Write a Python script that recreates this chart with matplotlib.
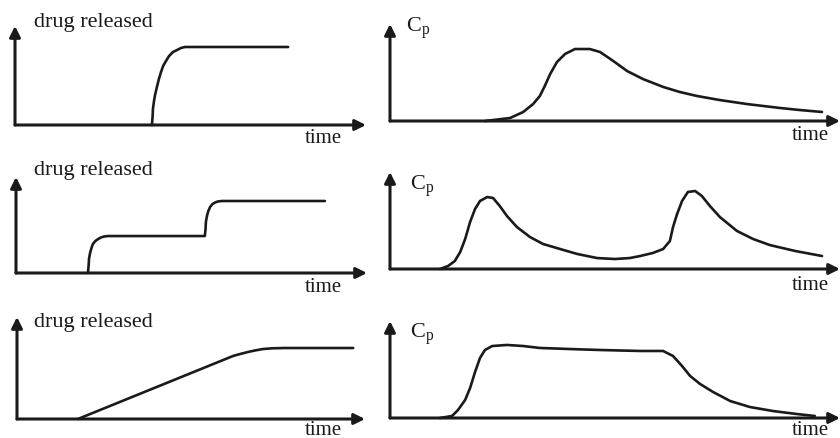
import matplotlib.pyplot as plt
import matplotlib

matplotlib.rc('font', family='Liberation Serif')

W, H = 840, 439

# drug released profiles (time, amount), axis units 0-100
rel1_t = [39.0, 39.2, 39.3, 39.6, 39.9, 40.5, 41.0, 41.6, 42.2, 43.0, 43.9, 45.0, 46.2,
          47.3, 48.4, 77.8]
rel1_y = [0, 8.1, 16.2, 24.2, 30.3, 39.4, 46.5, 53.5, 59.6, 64.6, 69.7, 73.7, 75.8,
          77.8, 78.8, 78.8]

rel2_t = [20.5, 20.7, 20.8, 21.1, 21.5, 21.9, 22.6, 23.4, 24.2, 25.1, 26.2, 53.8,
          54.0, 54.1, 54.4, 54.8, 55.3, 56.0, 56.7, 57.5, 58.7, 88.0]
rel2_y = [0, 8.3, 14.6, 20.8, 26.0, 30.2, 33.3, 35.4, 37.0, 38.0, 38.5, 38.5,
          45.8, 53.1, 59.4, 64.6, 68.8, 71.9, 73.4, 74.5, 75.0, 75.0]

rel3_t = [17.5, 62.1, 64.1, 66.4, 68.4, 70.7, 73.3, 77.0, 96.6]
rel3_y = [0, 61.8, 63.7, 65.7, 67.2, 68.6, 69.3, 69.6, 69.6]

# plasma concentration Cp profiles
cp1_t = [21.1, 26.7, 29.6, 31.8, 33.3, 34.4, 35.6, 37.1, 38.9, 41.1, 44.4, 46.7, 49.6,
         52.7, 56.2, 60.7, 64.4, 68.2, 73.3, 79.3, 86.7, 91.1, 96.0]
cp1_y = [0, 3.1, 9.3, 17.5, 25.8, 36.1, 48.5, 60.8, 69.1, 74.2, 74.2, 71.1, 61.9,
         51.5, 43.3, 35.1, 29.9, 25.8, 21.6, 17.5, 13.4, 11.3, 9.3]

cp2_t = [11.1, 12.9, 14.4, 15.6, 16.7, 17.8, 18.9, 20.0, 21.6, 22.9, 24.4, 26.0, 28.2,
         31.1, 34.0, 37.8, 41.6, 46.0, 50.0, 53.3, 55.6, 58.4, 60.7, 62.2, 62.9, 63.8,
         64.9, 66.2, 67.8, 69.3, 71.1, 73.3, 77.1, 80.7, 84.4, 90.0, 96.0]
cp2_y = [0, 3.1, 8.2, 17.5, 30.9, 48.5, 61.9, 70.1, 74.2, 73.2, 64.9, 54.6, 43.3,
         33.0, 25.8, 20.6, 15.5, 11.3, 10.3, 11.3, 13.4, 16.5, 20.6, 28.9, 43.3, 56.7,
         70.1, 79.4, 80.4, 75.3, 64.9, 53.6, 39.2, 30.9, 24.7, 18.6, 13.4]

cp3_t = [11.1, 13.8, 15.1, 16.7, 17.8, 18.9, 20.0, 21.1, 22.7, 26.0, 29.6, 33.3, 40.0,
         46.7, 55.6, 60.7, 62.9, 64.9, 66.7, 68.9, 71.8, 75.6, 80.0, 85.1, 90.4, 94.4]
cp3_y = [0, 2.1, 8.2, 18.6, 30.9, 47.4, 61.9, 70.1, 74.2, 75.3, 74.2, 72.2, 71.1,
         70.1, 69.1, 69.1, 63.9, 53.6, 43.3, 35.1, 26.8, 17.5, 11.3, 7.2, 4.1, 2.1]

# panel boxes in pixels: x origin, y origin (baseline), width, height
panels = [
    (15, 126, 351, 99, rel1_t, rel1_y),
    (390, 122, 450, 97, cp1_t, cp1_y),
    (16, 274, 351, 96, rel2_t, rel2_y),
    (390, 270, 450, 97, cp2_t, cp2_y),
    (17, 420, 348, 102, rel3_t, rel3_y),
    (390, 419, 450, 97, cp3_t, cp3_y),
]

fig = plt.figure(figsize=(W / 100, H / 100), dpi=100)
ink = '#1a1a1a'

for x0, y0, w, h, t, y in panels:
    ax = fig.add_axes([x0 / W, 1 - y0 / H, w / W, h / H])
    ax.set_xlim(0, 100)
    ax.set_ylim(0, 100)
    ax.axis('off')
    arrow = dict(arrowstyle='-|>', lw=2.2, color=ink, mutation_scale=16,
                 shrinkA=0, shrinkB=0)
    ax.annotate('', xy=(1, 0), xytext=(0, 0), xycoords='axes fraction', arrowprops=arrow)
    ax.annotate('', xy=(0, 1), xytext=(0, 0), xycoords='axes fraction', arrowprops=arrow)
    ax.plot(t, y, color=ink, lw=1.9, clip_on=False, solid_capstyle='round',
            solid_joinstyle='round')


def ptext(px, py, s, size=15, **kw):
    fig.text(px / W, 1 - py / H, s, fontsize=size, color=ink, va='baseline', **kw)


for py in (27, 175, 327):
    ptext(34, py, 'drug released', size=16)
for py in (143, 292, 435):
    ptext(342, py, 'time', ha='right')
for py in (140, 290, 435):
    ptext(829, py, 'time', ha='right')
for px, py in ((406, 32), (410, 190), (410, 338)):
    ptext(px, py, r'C$_\mathregular{p}$', size=16)

plt.savefig('out.png', dpi=100)
